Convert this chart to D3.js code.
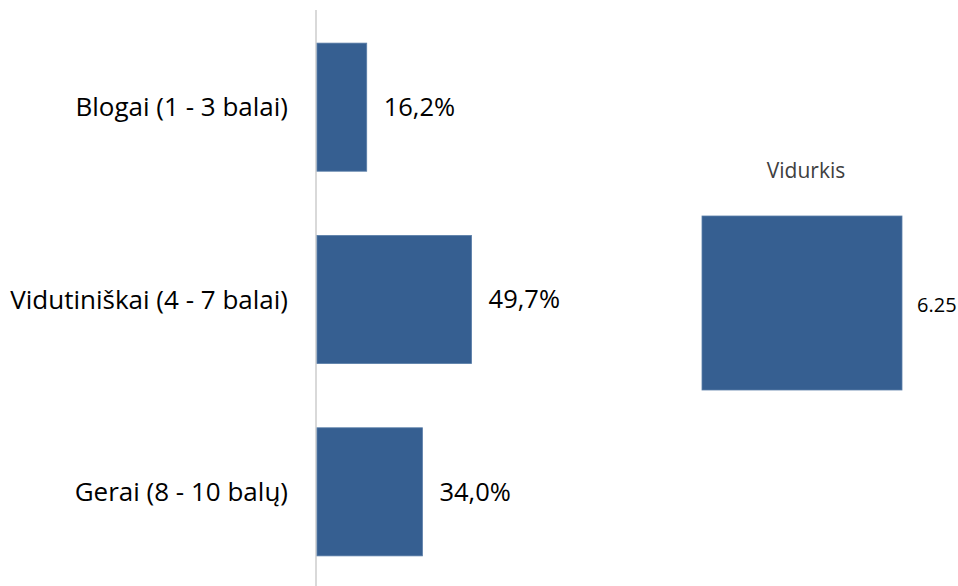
<!DOCTYPE html>
<meta charset="utf-8">
<script src="https://d3js.org/d3.v7.min.js"></script>
<style>
  body { margin: 0; background: #fff; }
  text { font-family: "Open Sans", sans-serif; }
</style>
<div id="chart"></div>
<script>

// data
var categories = ["Blogai (1 - 3 balai)", "Vidutiniškai (4 - 7 balai)", "Gerai (8 - 10 balų)"];
var shares = [16.2, 49.7, 34.0];
var shareLabels = ["16,2%", "49,7%", "34,0%"];
var avgCategory = ["Vidurkis"];
var avgValues = [6.25];
var avgLabels = ["6.25"];

var width = 958, height = 586;
var barColor = "#365f91";

var svg = d3.select("#chart")
  .append("svg")
  .attr("width", width)
  .attr("height", height);

// left chart
var y = d3.scaleBand()
  .domain(categories)
  .range([11, 588])
  .paddingInner(0.334)
  .paddingOuter(0.167);

var x = d3.scaleLinear()
  .domain([0, 100])
  .range([316, 629]);

svg.append("line")
  .attr("x1", x(0)).attr("x2", x(0))
  .attr("y1", 10).attr("y2", height)
  .style("stroke", "#d9d9d9")
  .attr("stroke-width", 2);

svg.selectAll(".bar")
  .data(shares)
  .enter()
  .append("rect")
  .attr("class", "bar")
  .attr("x", x(0) + 1)
  .attr("y", function(d, i) { return y(categories[i]); })
  .attr("width", function(d) { return x(d) - x(0) - 1; })
  .attr("height", y.bandwidth())
  .style("fill", barColor)
  .style("stroke", "#5a7ea8")
  .style("stroke-width", 0.8);

svg.selectAll(".cat")
  .data(categories)
  .enter()
  .append("text")
  .attr("class", "cat")
  .attr("x", 288)
  .attr("y", function(d) { return y(d) + y.bandwidth() / 2; })
  .attr("dy", "0.35em")
  .attr("text-anchor", "end")
  .style("font-size", "26px")
  .style("fill", "#000")
  .text(function(d) { return d; });

svg.selectAll(".val")
  .data(shares)
  .enter()
  .append("text")
  .attr("class", "val")
  .attr("x", function(d) { return x(d) + 17; })
  .attr("y", function(d, i) { return y(categories[i]) + y.bandwidth() / 2; })
  .attr("dy", "0.35em")
  .style("font-size", "25.5px")
  .style("fill", "#000")
  .text(function(d, i) { return shareLabels[i]; });

// right chart (average)
var y2 = d3.scaleBand()
  .domain(avgCategory)
  .range([216, 390]);

var x2 = d3.scaleLinear()
  .domain([0, 10])
  .range([702, 1022]);

svg.append("text")
  .attr("x", 806)
  .attr("y", 178)
  .attr("text-anchor", "middle")
  .style("font-size", "21px")
  .style("fill", "#404040")
  .text(avgCategory[0]);

svg.selectAll(".avg")
  .data(avgValues)
  .enter()
  .append("rect")
  .attr("class", "avg")
  .attr("x", x2(0))
  .attr("y", function(d, i) { return y2(avgCategory[i]); })
  .attr("width", function(d) { return x2(d) - x2(0); })
  .attr("height", y2.bandwidth())
  .style("fill", barColor)
  .style("stroke", "#5a7ea8")
  .style("stroke-width", 0.8);

svg.selectAll(".avgval")
  .data(avgValues)
  .enter()
  .append("text")
  .attr("class", "avgval")
  .attr("x", function(d) { return x2(d) + 15; })
  .attr("y", function(d, i) { return y2(avgCategory[i]) + y2.bandwidth() / 2 + 2; })
  .attr("dy", "0.35em")
  .style("font-size", "20px")
  .style("fill", "#000")
  .text(function(d, i) { return avgLabels[i]; });

</script>
